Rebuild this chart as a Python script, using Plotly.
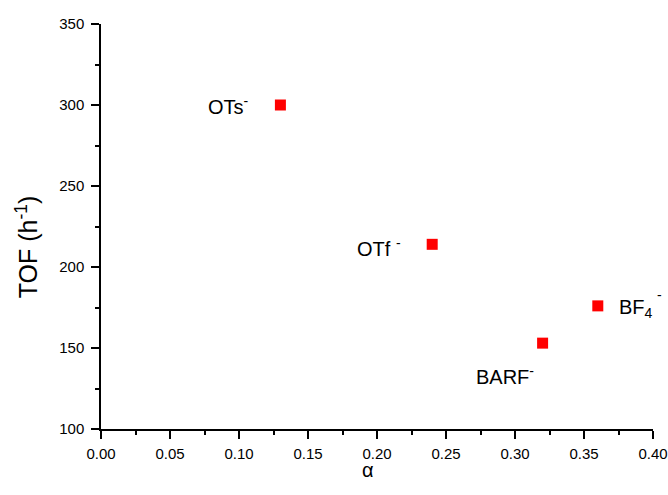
import plotly.graph_objects as go

anions = ["OTs", "OTf", "BF4", "BARF"]
alpha = [0.13, 0.24, 0.36, 0.32]
tof = [300, 214, 176, 153]
label_text = ["OTs<sup>-</sup>", "OTf <sup>-</sup>", "BF<sub>4</sub>", "BARF<sup>-</sup>"]

x_ticks = [0.00, 0.05, 0.10, 0.15, 0.20, 0.25, 0.30, 0.35, 0.40]
y_ticks = [100, 150, 200, 250, 300, 350]

FONT = "Liberation Sans, Arial, sans-serif"

fig = go.Figure()
fig.add_trace(go.Scatter(
    x=alpha, y=tof, mode="markers",
    marker=dict(symbol="square", size=11, color="#ff0000", line=dict(width=0)),
    showlegend=False, hoverinfo="x+y",
))

# label placement (pixel offsets relative to each point)
label_style = {
    "OTs": dict(xanchor="right", xshift=-29, yshift=0),
    "OTf": dict(xanchor="right", xshift=-29, yshift=-3),
    "BF4": dict(xanchor="left", xshift=19, yshift=-3),
    "BARF": dict(xanchor="left", xshift=-69, yshift=-32),
}
for name, xv, yv, txt in zip(anions, alpha, tof, label_text):
    st = label_style[name]
    fig.add_annotation(x=xv, y=yv, xref="x", yref="y", text=txt, showarrow=False,
                       yanchor="middle", font=dict(family=FONT, size=20, color="black"), **st)
# superscript charge of BF4 (drawn separately, offset like the reference)
fig.add_annotation(x=alpha[2], y=tof[2], xref="x", yref="y", text="-", showarrow=False,
                   xanchor="left", yanchor="middle", xshift=57, yshift=11,
                   font=dict(family=FONT, size=14, color="black"))

fig.add_annotation(x=-0.135, y=0.45, xref="paper", yref="paper", text="TOF (h<sup>-1</sup>)",
                   textangle=-90, showarrow=False, xanchor="center", yanchor="middle",
                   font=dict(family=FONT, size=25, color="black"))
fig.add_annotation(x=0.483, y=-0.1, xref="paper", yref="paper", text="α",
                   showarrow=False, xanchor="center", yanchor="middle",
                   font=dict(family=FONT, size=20, color="black"))

axis_common = dict(
    showline=True, linecolor="black", linewidth=1.5, mirror=False,
    showgrid=False, zeroline=False, automargin=False,
    ticks="outside", ticklen=8, tickwidth=1.5, tickcolor="black",
    tickfont=dict(family=FONT, size=15, color="black"),
    ticklabeloverflow="allow",
)
fig.update_xaxes(range=[0, 0.4], tickvals=x_ticks, tickformat=".2f", ticklabelstandoff=2,
                 minor=dict(dtick=0.025, ticks="outside", ticklen=4, tickwidth=1.5, tickcolor="black"),
                 **axis_common)
fig.update_yaxes(range=[100, 350], tickvals=y_ticks, ticklabelstandoff=4,
                 minor=dict(dtick=25, ticks="outside", ticklen=4, tickwidth=1.5, tickcolor="black"),
                 **axis_common)

fig.update_layout(
    width=668, height=495,
    margin=dict(l=101, r=15, t=24, b=66),
    plot_bgcolor="white", paper_bgcolor="white",
)
fig.write_html("out.html", config={"displayModeBar": False},
               post_script="document.body.style.margin='0';")
